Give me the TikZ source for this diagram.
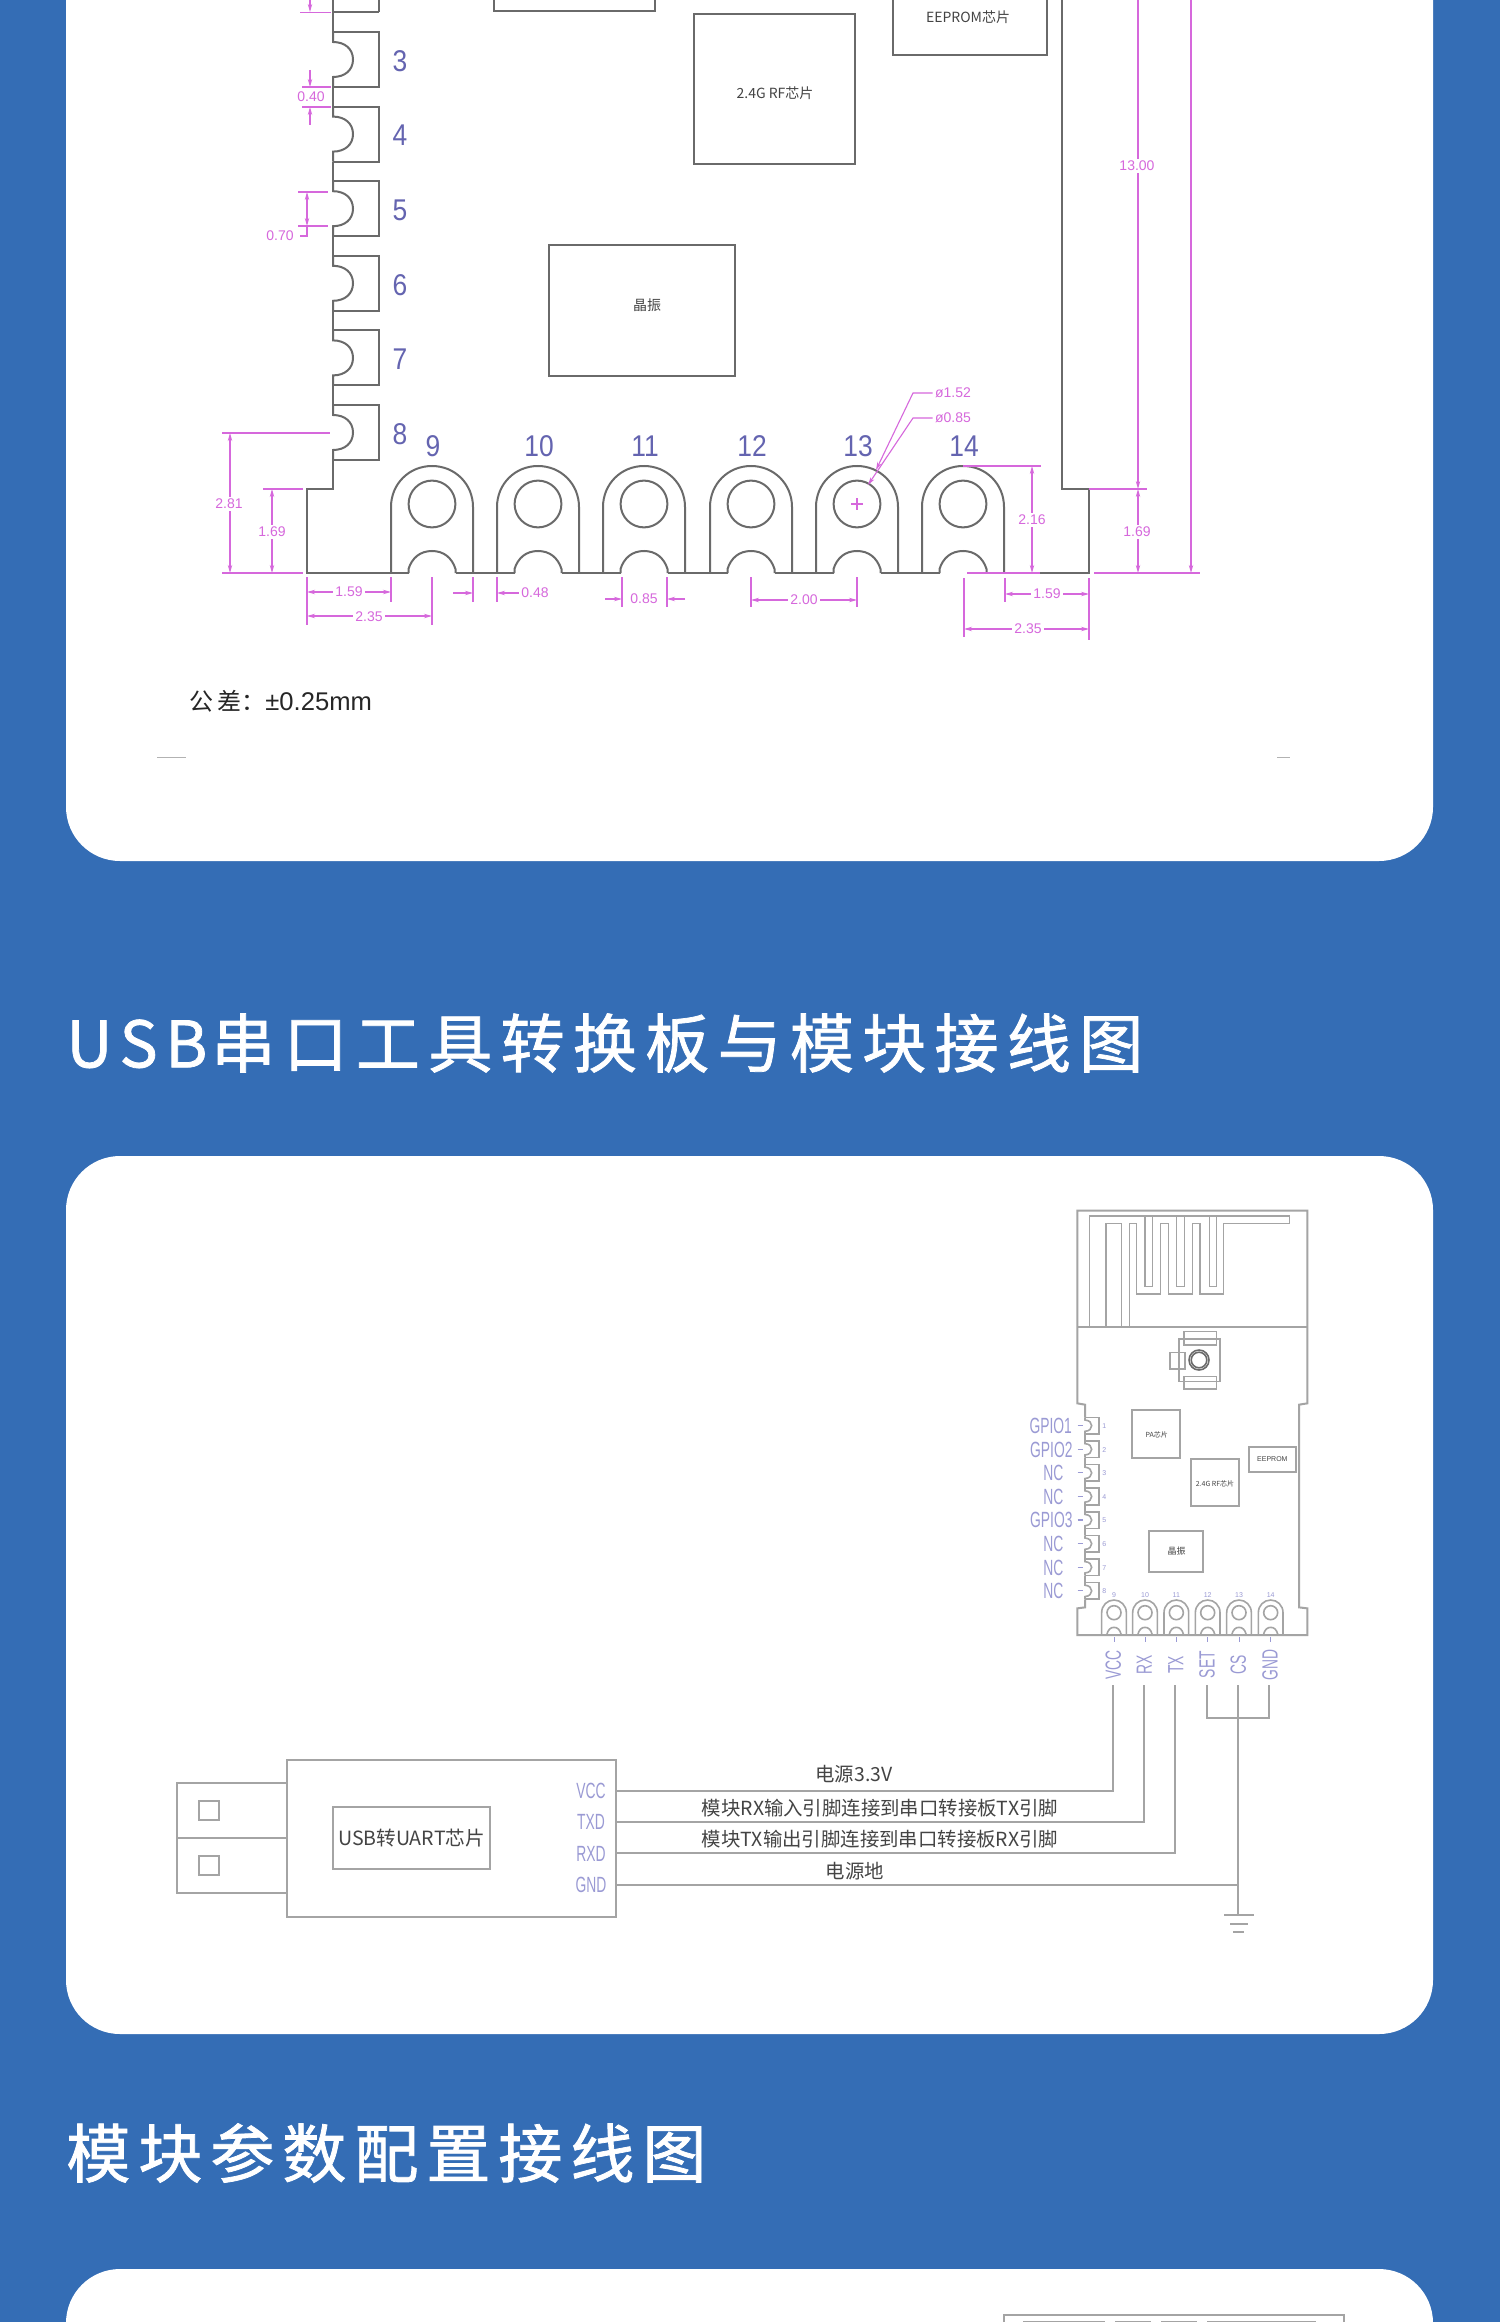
\documentclass[tikz,border=0pt]{standalone}
\usepackage{fontspec}
\usepackage{graphicx}
\usetikzlibrary{arrows.meta}
\setmainfont{Liberation Sans}
\newfontfamily\cjk{Noto Sans CJK SC}
\newfontfamily\titleL{Noto Sans CJK SC}[LetterSpace=12,FakeBold=1.2]
\newfontfamily\titleA{Noto Sans CJK SC}[LetterSpace=13,FakeBold=1.2]
\newfontfamily\titleB{Noto Sans CJK SC}[LetterSpace=12.5,FakeBold=1.2]
\definecolor{bluebg}{HTML}{346DB5}
\definecolor{dimc}{HTML}{D668DC}
\definecolor{lineD}{HTML}{6A6A6A}
\definecolor{lineL}{HTML}{A4A4A4}
\definecolor{numc}{HTML}{6464B0}
\definecolor{lavc}{HTML}{9A9AD4}
\definecolor{textc}{HTML}{444444}
\newcommand{\nar}[2][.63]{\scalebox{#1}[1]{#2}}
\tikzset{
  x=0.5pt,y=-0.5pt,
  panel/.style={fill=white,draw=none,rounded corners=27pt},
  dark/.style={draw=lineD,line width=1pt},
  light/.style={draw=lineL,line width=1pt},
  extl/.style={draw=dimc,line width=.55pt},
  dimb/.style={draw=dimc,line width=.55pt,{Stealth[length=4pt,width=2.2pt]}-{Stealth[length=4pt,width=2.2pt]}},
  dime/.style={draw=dimc,line width=.55pt,-{Stealth[length=4pt,width=2.2pt]}},
  dimt/.style={text=dimc,fill=white,inner sep=1pt,font=\fontsize{7}{7}\selectfont},
  bignum/.style={text=numc,inner sep=0pt,font=\fontsize{15}{15}\selectfont},
  chipt/.style={text=textc,inner sep=0pt,font=\cjk\fontsize{7}{7}\selectfont},
  lav/.style={text=lavc,inner sep=0pt,font=\fontsize{11}{11}\selectfont},
  tinyn/.style={text=lavc,inner sep=0pt,font=\fontsize{3.5}{3.5}\selectfont},
  wiret/.style={text=textc,inner sep=0pt,font=\cjk\fontsize{9.7}{10}\selectfont},
  titlet/.style={text=white,inner sep=0pt,anchor=west},
}
\begin{document}
\begin{tikzpicture}
\useasboundingbox (0,0) rectangle (1500,2322);
\fill[bluebg] (0,0) rectangle (1500,2322);
\path[panel] (66,0) -- (66,861) -- (1433,861) -- (1433,0);
\path[panel] (66,1156) rectangle (1433,2034);
\path[panel] (66,2322) -- (66,2269) -- (1433,2269) -- (1433,2322);
% titles
\node[titlet] (title1) at (66,1043) {\fontsize{32}{32}\selectfont\titleL USB\kern2pt\titleA 串口工具转换板与模块接线图};
\node[titlet] (title2) at (66,2153) {\fontsize{32}{32}\selectfont\titleB 模块参数配置接线图};

% ---------- panel 1: dimension drawing ----------
% left edge pins
\draw[dark] (333,0) -- (333,12.5) -- (379,12.5) (379,0) -- (379,12.5);
\foreach \k in {3,...,8}{
  \pgfmathsetmacro\t{32+(\k-3)*74.6}
  \draw[dark] (333,\t-19.6) -- (333,\t) -- (379,\t) -- (379,\t+55) -- (333,\t+55);
  \draw[dark] (333,\t) -- (333,\t+10) .. controls (345,\t+10) and (353,\t+17) .. (353,\t+27.5) .. controls (353,\t+38) and (345,\t+45) .. (333,\t+45) -- (333,\t+55);
  \node[bignum] (bn\k) at (400,\t+29) {\nar[.88]{\k}};
}
% outline
\draw[dark] (333,460) -- (333,489) -- (307,489) -- (307,573) -- (409,573);
\draw[dark] (1062,0) -- (1062,489) -- (1089,489) -- (1089,573) -- (987,573);
% bottom pads
\foreach \c/\n [count=\i] in {432/9,538/10,644/11,751/12,857/13,963/14}{
  \draw[dark] (\c-41,573) -- (\c-41,507) .. controls (\c-41,484) and (\c-23,466) .. (\c,466) .. controls (\c+23,466) and (\c+41,484) .. (\c+41,507) -- (\c+41,573);
  \draw[dark] (\c,504) circle[radius=11.7pt];
  \draw[dark] (\c-23.5,573) -- (\c-23.5,569) .. controls (\c-20,558) and (\c-12,551) .. (\c,551) .. controls (\c+12,551) and (\c+20,558) .. (\c+23.5,569) -- (\c+23.5,573);
  \node[bignum] (bp\n) at (\c+1,446) {\nar[.88]{\n}};
}
\foreach \a/\b in {455.5/514.5,561.5/620.5,667.5/727.5,774.5/833.5,880.5/939.5}{
  \draw[dark] (\a,573) -- (\b,573);
}
% chips
\draw[dark] (494,0) -- (494,11) -- (655,11) -- (655,0);
\draw[dark] (549,245) rectangle (735,376);
\node[chipt] (xtal) at (647,305) {晶振};
\draw[dark] (694,14) rectangle (855,164);
\node[chipt] (rf) at (775,93) {2.4G RF芯片};
\draw[dark] (893,0) -- (893,55) -- (1047,55) -- (1047,0);
\node[chipt] (eep) at (968,17) {EEPROM芯片};
% left dims
\draw[extl] (300,12.5) -- (331,12.5) (302,87) -- (331,87) (302,107) -- (331,107);
\draw[dime] (310,0) -- (310,12);
\draw[dime] (310,70) -- (310,87);
\draw[dime] (310,125) -- (310,107);
\node[dimt,fill=none] (d040) at (311,97) {0.40};
\draw[extl] (298,192) -- (328,192) (298,226) -- (328,226);
\draw[dimb] (307,192) -- (307,226);
\draw[extl] (307,226) -- (307,236) -- (300,236);
\node[dimt] (d070) at (280,236) {0.70};
\draw[extl] (222,433) -- (330,433) (222,573) -- (303,573) (263,489) -- (303,489);
\draw[dimb] (230,433) -- (230,573);
\draw[dimb] (272,489) -- (272,573);
\node[dimt] (d281) at (229,504) {2.81};
\node[dimt] (d169) at (272,532) {1.69};
% bottom dims left
\draw[extl] (307,577) -- (307,625) (391,577) -- (391,602) (432,577) -- (432,625) (473,577) -- (473,602) (497,577) -- (497,602);
\draw[dimb] (307,592) -- (391,592);
\node[dimt] (d159) at (349,592) {1.59};
\draw[dimb] (307,616) -- (432,616);
\node[dimt] (d235) at (369,617) {2.35};
\draw[dime] (453,593) -- (473,593);
\draw[dime] (521,593) -- (497,593);
\node[dimt] (d048) at (535,593) {0.48};
\draw[extl] (622,577) -- (622,607) (667,577) -- (667,607) (751,577) -- (751,607) (857,577) -- (857,607);
\draw[dime] (605,599) -- (622,599);
\draw[dime] (685,599) -- (667,599);
\node[dimt] (d085) at (644,599) {0.85};
\draw[dimb] (751,600) -- (857,600);
\node[dimt] (d200) at (804,600) {2.00};
% leaders
\node[dimt] (d152) at (953,393) {ø1.52};
\node[dimt] (d085b) at (953,418) {ø0.85};
\draw[dime] (d152.west) -- (913,393) -- (876,470);
\draw[dime] (d085b.west) -- (913,418) -- (868,485);
\draw[dimc,line width=.8pt] (851,504) -- (863,504) (857,498) -- (857,510);
% right dims
\draw[extl] (963,466) -- (1041,466) (967,573) -- (1040,573) (1089,489) -- (1147,489) (1094,573) -- (1200,573);
\draw[dimb] (1032,466) -- (1032,573);
\node[dimt] (d216) at (1032,520) {2.16};
\draw[dime] (1138,0) -- (1138,489);
\node[dimt] (d1300) at (1137,166) {13.00};
\draw[dimb] (1138,489) -- (1138,573);
\node[dimt] (d169r) at (1137,532) {1.69};
\draw[dime] (1191,0) -- (1191,573);
\draw[extl] (1005,578) -- (1005,602) (1089,578) -- (1089,640) (964,578) -- (964,637);
\draw[dimb] (1005,594) -- (1089,594);
\node[dimt] (d159r) at (1047,594) {1.59};
\draw[dimb] (964,629) -- (1089,629);
\node[dimt] (d235r) at (1028,629) {2.35};
% tolerance
\node[anchor=west,inner sep=0pt,text=black!85,font=\fontsize{12.8}{14}\selectfont] (tol) at (189,701) {{\cjk\fontsize{12}{14}\selectfont 公\,差：}±0.25mm};
\draw[black!30,line width=.5pt] (157,757) -- (186,757) (1277,757) -- (1290,757);

% ---------- panel 2: wiring ----------
\begin{scope}[shift={(1000,1190)},x=0.16667pt,y=-0.16667pt]
% outline
\draw[light] (255,682) -- (255,644) -- (232,640) -- (232,62) -- (922,62) -- (922,640) -- (897,644) -- (897,1252) -- (922,1255) -- (922,1335) -- (232,1335) -- (232,1255) -- (255,1252) -- (255,1228);
\draw[light] (232,410) -- (922,410);
% antenna
\draw[light,line width=.8pt] (268,410) -- (268,78) -- (868,78) -- (868,100) -- (670,100) -- (670,312) -- (600,312) -- (600,100) -- (577,100) -- (577,312) -- (505,312) -- (505,100) -- (482,100) -- (482,312) -- (410,312) -- (410,100) -- (388,100) -- (388,410);
\draw[light,line width=.8pt] (318,410) -- (318,100) -- (365,100) -- (365,410);
\draw[light,line width=.8pt] (435,78) -- (435,290) -- (458,290) -- (458,78);
\draw[light,line width=.8pt] (530,78) -- (530,290) -- (553,290) -- (553,78);
\draw[light,line width=.8pt] (628,78) -- (628,290) -- (650,290) -- (650,78);
% u.fl connector
\draw[light,line width=.8pt] (537,447) rectangle (660,575);
\draw[light,line width=.8pt] (552,425) rectangle (650,465);
\draw[light,line width=.8pt] (552,560) rectangle (650,597);
\draw[light,line width=.8pt] (510,488) rectangle (555,537);
\draw[draw=lineD,line width=.8pt] (597,510) circle[radius=5pt];
\draw[draw=lineD,line width=.8pt] (597,510) circle[radius=3.9pt];
% chips
\draw[light] (397,660) rectangle (540,803);
\node[chipt,font=\cjk\fontsize{3.5}{3.5}\selectfont] (pa2) at (470,733) {PA芯片};
\draw[light] (748,772) rectangle (887,847);
\node[chipt,font=\fontsize{3.5}{3.5}\selectfont] (eep2) at (817,808) {EEPROM};
\draw[light] (574,806) rectangle (718,948);
\node[chipt,font=\cjk\fontsize{3.5}{3.5}\selectfont] (rf2) at (645,880) {2.4G RF芯片};
\draw[light] (446,1023) rectangle (610,1146);
\node[chipt,font=\cjk\fontsize{4.5}{4.5}\selectfont] (xt2) at (530,1083) {晶振};
% pins
\foreach \k/\lab/\lx in {1/GPIO1/152,2/GPIO2/154,3/NC/160,4/NC/160,5/GPIO3/154,6/NC/160,7/NC/160,8/NC/160}{
  \pgfmathsetmacro\t{682+70.8*(\k-1)}
  \draw[light,line width=.8pt] (255,\t) -- (297,\t) -- (297,\t+50) -- (255,\t+50);
  \draw[light,line width=.8pt] (255,\t) -- (255,\t+8) .. controls (268,\t+9) and (275,\t+16) .. (275,\t+25) .. controls (275,\t+34) and (268,\t+41) .. (255,\t+42) -- (255,\t+50);
  \ifnum\k<8 \draw[light,line width=.8pt] (255,\t+50) -- (255,\t+70.8); \fi
  \draw[lavc,line width=.6pt] (233,\t+25) -- (250,\t+25);
  \node[tinyn] (sn\k) at (313,\t+26) {\k};
  \node[lav] (gl\k) at (\lx,\t+26) {\nar{\lab}};
}
% pads
\foreach \c/\n/\nm in {342/9/VCC,435/10/RX,529/11/TX,623/12/SET,717/13/CS,812/14/GND}{
  \draw[light,line width=.8pt] (\c-37,1335) -- (\c-37,1268) .. controls (\c-37,1246) and (\c-20,1230) .. (\c,1230) .. controls (\c+20,1230) and (\c+37,1246) .. (\c+37,1268) -- (\c+37,1335);
  \draw[light,line width=.8pt] (\c,1268) circle[radius=3.5pt];
  \draw[light,line width=.8pt] (\c-22,1335) .. controls (\c-18,1318) and (\c-10,1312) .. (\c,1312) .. controls (\c+10,1312) and (\c+18,1318) .. (\c+22,1335);
  \draw[lavc,line width=.5pt] (\c,1342) -- (\c,1355);
  \node[tinyn] (sp\n) at (\c,1215) {\n};
  \node[lav,rotate=90] (pl\n) at (\c-2,1424) {\nar{\nm}};
}
\end{scope}
% USB board
\draw[light] (287,1760) rectangle (616,1917);
\draw[light] (287,1783) -- (177,1783) -- (177,1893) -- (287,1893);
\draw[light] (177,1838) -- (287,1838);
\draw[light] (199,1801) rectangle (219,1820);
\draw[light] (199,1856) rectangle (219,1875);
\node[draw=lineL,line width=1pt,minimum width=78.5pt,minimum height=31pt,inner sep=0pt,text=textc,font=\cjk\fontsize{9.8}{10}\selectfont] (uart) at (411.5,1838) {USB转UART芯片};
\node[lav] (uV) at (591,1791) {\nar{VCC}};
\node[lav] (uT) at (591,1822) {\nar{TXD}};
\node[lav] (uR) at (591,1854) {\nar{RXD}};
\node[lav] (uG) at (591,1885) {\nar{GND}};
% wires
\coordinate (bV) at (616,1791);
\coordinate (bT) at (616,1822);
\coordinate (bR) at (616,1853);
\coordinate (bG) at (616,1885);
\coordinate (mV) at (1113,1685);
\coordinate (mR) at (1144,1685);
\coordinate (mT) at (1175,1685);
\coordinate (mS) at (1207,1685);
\coordinate (mC) at (1238,1685);
\coordinate (mG) at (1269,1685);
\coordinate (gnd) at (1238,1915);
\draw[light] (bV) -| (mV);
\draw[light] (bT) -| (mR);
\draw[light] (bR) -| (mT);
\draw[light] (bG) -| (mC);
\draw[light] (mC) -- (gnd);
\draw[light] (mS) |- (mG |- 0,1718) -- (mG);
\draw[light] (1224,1915) -- (1254,1915) (1230,1924) -- (1248,1924) (1233,1932) -- (1244,1932);
\node[wiret] (w1) at (854,1774) {电源3.3V};
\node[wiret] (w2) at (880,1808) {模块RX输入引脚连接到串口转接板TX引脚};
\node[wiret] (w3) at (880,1839) {模块TX输出引脚连接到串口转接板RX引脚};
\node[wiret] (w4) at (855,1871) {电源地};

% ---------- panel 3: top of next drawing ----------
\draw[light] (1004,2322) -- (1004,2315) -- (1344,2315) -- (1344,2322);
\draw[light] (1023,2322) -- (1105,2322) (1115,2322) -- (1151,2322) (1161,2322) -- (1197,2322) (1207,2322) -- (1316,2322);
\end{tikzpicture}
\end{document}
